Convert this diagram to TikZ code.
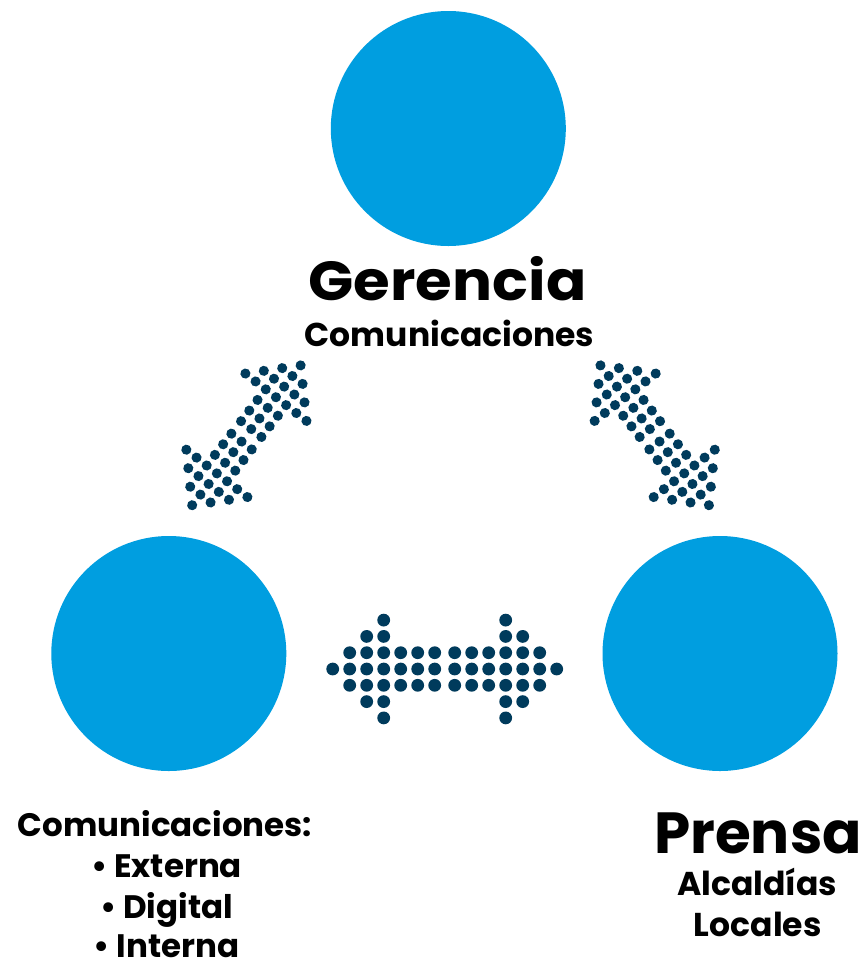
\documentclass[tikz,border=0pt]{standalone}
\usepackage{fontspec}
\setmainfont{Poppins}
\definecolor{circblue}{HTML}{009EE0}
\definecolor{dotnavy}{HTML}{003B5C}
\newcommand{\dotarrow}{%
  \foreach \s in {-1,1}{%
    \foreach \k/\m in {0/1,1/1,2/1,3/3,4/2,5/1,6/0}{%
      \foreach \r in {-\m,...,\m}{%
        \fill[dotnavy] ({\s*(10+17*\k)},{16.3*\r}) circle (6.4);
      }%
    }%
  }%
}
\begin{document}
\begin{tikzpicture}[x=1pt,y=-1pt,
  bigcirc/.style={circle,fill=circblue,minimum size=235pt,inner sep=0pt},
  lbl/.style={anchor=base,inner sep=0pt,font=\bfseries}]
\useasboundingbox (0,0) rectangle (865,970);
\fill[white] (0,0) rectangle (865,970);
\node[bigcirc] (top) at (448.3,128.5) {};
\node[bigcirc] (left) at (168.8,653.5) {};
\node[bigcirc] (right) at (720,653.5) {};
% arrows
\begin{scope}[shift={(444.7,669)}]\dotarrow\end{scope}
\begin{scope}[shift={(246.4,435.3)},rotate=52.2,scale=0.79]\dotarrow\end{scope}
\begin{scope}[shift={(654.7,435.3)},rotate=-52.2,scale=0.79]\dotarrow\end{scope}
% labels
\node[lbl,font=\bfseries\fontsize{55}{55}\selectfont] (ger) at (447.5,300) {\scalebox{1.08}[1]{Gerencia}};
\node[lbl,font=\bfseries\fontsize{33}{33}\selectfont] (gercom) at (449.5,346.7) {Comunicaciones};
\node[lbl,font=\bfseries\fontsize{32.5}{33}\selectfont] (c1) at (165,836) {Comunicaciones:};
\node[lbl,font=\bfseries\fontsize{32.5}{33}\selectfont] (c2) at (166.5,877.5) {\textbullet{} Externa};
\node[lbl,font=\bfseries\fontsize{32.5}{33}\selectfont] (c3) at (166.5,918) {\textbullet{} Digital};
\node[lbl,font=\bfseries\fontsize{32.5}{33}\selectfont] (c4) at (166.5,957) {\textbullet{} Interna};
\node[lbl,font=\bfseries\fontsize{58}{58}\selectfont] (pre) at (758,853.3) {Prensa};
\node[lbl,font=\bfseries\fontsize{33}{33}\selectfont] (p1) at (757,895) {Alcaldías};
\node[lbl,font=\bfseries\fontsize{33}{33}\selectfont] (p2) at (757.7,936.7) {Locales};
\end{tikzpicture}
\end{document}
